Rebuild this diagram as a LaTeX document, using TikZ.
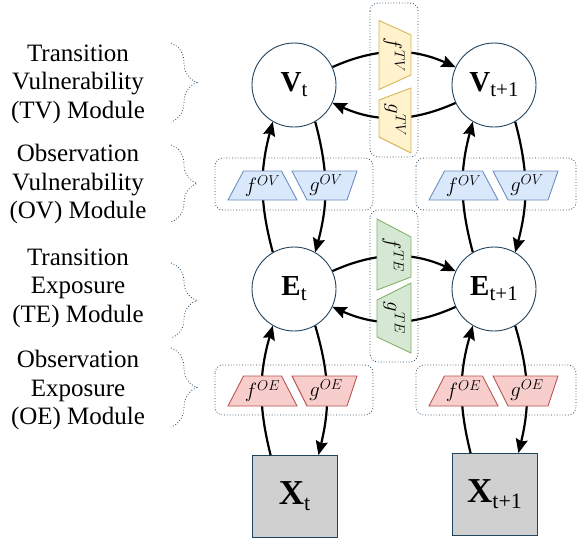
\documentclass[tikz,border=0pt]{standalone}
\usepackage{fontspec}
\setmainfont{Liberation Serif}
\usetikzlibrary{arrows.meta,decorations.pathreplacing}
\definecolor{ylwF}{HTML}{FFF2CC}\definecolor{ylwD}{HTML}{D6B656}
\definecolor{bluF}{HTML}{DAE8FC}\definecolor{bluD}{HTML}{6C8EBF}
\definecolor{grnF}{HTML}{D5E8D4}\definecolor{grnD}{HTML}{82B366}
\definecolor{redF}{HTML}{F8CECC}\definecolor{redD}{HTML}{B85450}
\definecolor{edgeC}{HTML}{23445D}
\definecolor{xgray}{HTML}{D0D0D0}
\newcommand\stlab[2]{{\fontsize{29}{29}\selectfont\textbf{#1}}{\fontsize{21}{21}\selectfont\raisebox{-5pt}{#2}}}
\newcommand\obslab[2]{{\fontsize{35}{35}\selectfont\textbf{#1}}{\fontsize{22}{22}\selectfont\raisebox{-6pt}{#2}}}
\newcommand\fnlab[2]{{\fontsize{21}{21}\selectfont$#1^{#2}$}}
\begin{document}
\begin{tikzpicture}[x=1pt,y=-1pt,
  state/.style={circle,draw=edgeC,line width=0.9pt,fill=white,minimum size=84pt,inner sep=0pt},
  obs/.style={rectangle,draw=edgeC,line width=0.9pt,fill=xgray,minimum width=85pt,minimum height=82pt,inner sep=0pt},
  flow/.style={line width=2.2pt,-{Stealth[length=14pt,width=12pt,inset=2pt]}},
  grp/.style={draw=edgeC,dotted,line width=0.8pt,rounded corners=8pt},
  modtxt/.style={align=center,font=\fontsize{25}{28.5}\selectfont},
  brc/.style={draw=edgeC,dotted,line width=0.8pt,decorate,decoration={brace,amplitude=26pt}},
  fn/.style={inner sep=0pt},
  tvS/.style={fill=ylwF,draw=ylwD,line width=0.9pt},
  ovS/.style={fill=bluF,draw=bluD,line width=0.9pt},
  teS/.style={fill=grnF,draw=grnD,line width=0.9pt},
  oeS/.style={fill=redF,draw=redD,line width=0.9pt}]
\useasboundingbox (0,0) rectangle (577,543);

% module texts and braces
\node[modtxt] (tTV) at (78,84) {Transition\\Vulnerability\\(TV) Module};
\node[modtxt] (tOV) at (78,184) {Observation\\Vulnerability\\(OV) Module};
\node[modtxt] (tTE) at (78,288) {Transition\\Exposure\\(TE) Module};
\node[modtxt] (tOE) at (78,390) {Observation\\Exposure\\(OE) Module};
\draw[brc] (171,43) -- (171,122);
\draw[brc] (171,145) -- (171,222);
\draw[brc] (171,263) -- (171,338);
\draw[brc] (171,348) -- (171,427);

% state nodes
\node[state] (Vt) at (294,85) {\stlab{V}{t}};
\node[state] (Vn) at (494,85) {\stlab{V}{t+1}};
\node[state] (Et) at (294,289) {\stlab{E}{t}};
\node[state] (En) at (494,289) {\stlab{E}{t+1}};
\node[obs] (Xt) at (294.5,496.5) {\obslab{X}{t}};
\node[obs] (Xn) at (494.5,494.5) {\obslab{X}{t+1}};

% connectors
\draw[flow] (Vt.25) to[bend left=24] (Vn.155);
\draw[flow] (Vn.205) to[bend left=24] (Vt.335);
\draw[flow] (Et.25) to[bend left=24] (En.155);
\draw[flow] (En.205) to[bend left=24] (Et.335);
\foreach \c in {t,n}{
  \draw[flow] (E\c.120) to[bend left=15] (V\c.240);
  \draw[flow] (V\c.300) to[bend left=15] (E\c.60);
  \draw[flow] (X\c.120) to[bend left=15] (E\c.240);
  \draw[flow] (E\c.300) to[bend left=15] (X\c.60);
}

% group boxes
\draw[grp] (370,3) rectangle (418,157);
\draw[grp] (370,210) rectangle (418,362);
\draw[grp] (215,158) rectangle (373,210);
\draw[grp] (416,158) rectangle (576,210);
\draw[grp] (215,365) rectangle (373,415);
\draw[grp] (416,365) rectangle (576,415);

% TV functions
\draw[tvS] (379,20.5) -- (411,35) -- (411,75) -- (379,89.5) -- cycle;
\node[fn,rotate=-90] (fTV) at (394,55) {\fnlab{f}{TV}};
\draw[tvS] (379,100) -- (411,88) -- (411,153) -- (379,137) -- cycle;
\node[fn,rotate=-90] (gTV) at (395,120) {\fnlab{g}{TV}};
% TE functions
\draw[teS] (377,219) -- (411,237) -- (411,277) -- (377,290) -- cycle;
\node[fn,rotate=-90] (fTE) at (393,255) {\fnlab{f}{TE}};
\draw[teS] (377,300) -- (411,283) -- (411,353) -- (377,337) -- cycle;
\node[fn,rotate=-90] (gTE) at (394,318) {\fnlab{g}{TE}};

% OV / OE functions
\foreach \dx in {0,201}{
  \begin{scope}[xshift=\dx]
  \draw[ovS] (243.5,171) -- (281.5,171) -- (297,200) -- (228,200) -- cycle;
  \draw[ovS] (292,171) -- (357,171) -- (347,200) -- (307,200) -- cycle;
  \draw[oeS] (243.5,376) -- (281.5,376) -- (297,406) -- (228,406) -- cycle;
  \draw[oeS] (292,376) -- (357,376) -- (347,406) -- (307,406) -- cycle;
  \end{scope}
}
\node[fn] (fOV1) at (262.5,186) {\fnlab{f}{OV}};
\node[fn] (gOV1) at (326,185) {\fnlab{g}{OV}};
\node[fn] (fOE1) at (262.5,391) {\fnlab{f}{OE}};
\node[fn] (gOE1) at (326,390) {\fnlab{g}{OE}};
\node[fn] (fOV2) at (463.5,186) {\fnlab{f}{OV}};
\node[fn] (gOV2) at (527,185) {\fnlab{g}{OV}};
\node[fn] (fOE2) at (463.5,391) {\fnlab{f}{OE}};
\node[fn] (gOE2) at (527,390) {\fnlab{g}{OE}};
\end{tikzpicture}
\end{document}
